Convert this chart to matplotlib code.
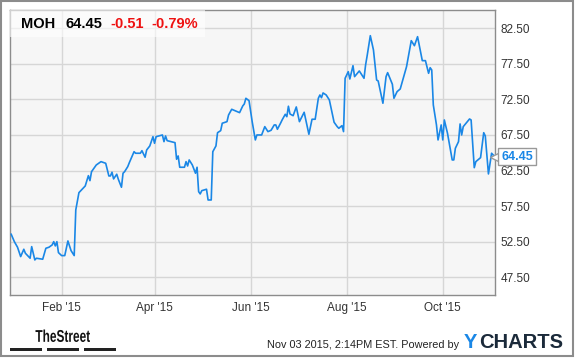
import pandas as pd
import matplotlib
matplotlib.use('Agg')
import matplotlib.pyplot as plt
import matplotlib.dates as mdates
import matplotlib.transforms as mtrans
from matplotlib.patches import Rectangle, PathPatch
from matplotlib.textpath import TextPath
from matplotlib.font_manager import FontProperties

plt.rcParams['font.family'] = ['Liberation Sans', 'DejaVu Sans']

# MOH daily close
dates = ['2014-12-31', '2015-01-02', '2015-01-04', '2015-01-06', '2015-01-08', '2015-01-09',
         '2015-01-12', '2015-01-13', '2015-01-15', '2015-01-16', '2015-01-20', '2015-01-22',
         '2015-01-24', '2015-01-26', '2015-01-27', '2015-01-28', '2015-01-29', '2015-01-30',
         '2015-02-01', '2015-02-03', '2015-02-05', '2015-02-07', '2015-02-09', '2015-02-10',
         '2015-02-12', '2015-02-14', '2015-02-16', '2015-02-18', '2015-02-19', '2015-02-20',
         '2015-02-23', '2015-02-26', '2015-03-01', '2015-03-03', '2015-03-04', '2015-03-05',
         '2015-03-06', '2015-03-08', '2015-03-09', '2015-03-11', '2015-03-12', '2015-03-13',
         '2015-03-15', '2015-03-16', '2015-03-19', '2015-03-20', '2015-03-23', '2015-03-24',
         '2015-03-26', '2015-03-27', '2015-03-29', '2015-03-31', '2015-04-01', '2015-04-02',
         '2015-04-06', '2015-04-07', '2015-04-08', '2015-04-09', '2015-04-14', '2015-04-15',
         '2015-04-16', '2015-04-17', '2015-04-20', '2015-04-21', '2015-04-22', '2015-04-23',
         '2015-04-25', '2015-04-27', '2015-04-28', '2015-04-29', '2015-04-30', '2015-05-01',
         '2015-05-04', '2015-05-05', '2015-05-07', '2015-05-08', '2015-05-10', '2015-05-11',
         '2015-05-13', '2015-05-14', '2015-05-17', '2015-05-18', '2015-05-20', '2015-05-25',
         '2015-05-27', '2015-05-28', '2015-05-29', '2015-05-31', '2015-06-02', '2015-06-04',
         '2015-06-05', '2015-06-08', '2015-06-10', '2015-06-12', '2015-06-14', '2015-06-16',
         '2015-06-17', '2015-06-18', '2015-06-20', '2015-06-21', '2015-06-23', '2015-06-24',
         '2015-06-25', '2015-06-26', '2015-06-28', '2015-06-30', '2015-07-02', '2015-07-05',
         '2015-07-08', '2015-07-10', '2015-07-12', '2015-07-14', '2015-07-15', '2015-07-16',
         '2015-07-17', '2015-07-19', '2015-07-21', '2015-07-24', '2015-07-26', '2015-07-27',
         '2015-07-29', '2015-07-30', '2015-07-31', '2015-08-02', '2015-08-03', '2015-08-05',
         '2015-08-06', '2015-08-09', '2015-08-12', '2015-08-13', '2015-08-14', '2015-08-16',
         '2015-08-18', '2015-08-20', '2015-08-21', '2015-08-24', '2015-08-26', '2015-08-27',
         '2015-08-30', '2015-08-31', '2015-09-02', '2015-09-04', '2015-09-08', '2015-09-11',
         '2015-09-13', '2015-09-15', '2015-09-18', '2015-09-20', '2015-09-22', '2015-09-23',
         '2015-09-24', '2015-09-25', '2015-09-27', '2015-09-28', '2015-09-30', '2015-10-01',
         '2015-10-02', '2015-10-04', '2015-10-07', '2015-10-08', '2015-10-09', '2015-10-11',
         '2015-10-12', '2015-10-13', '2015-10-14', '2015-10-18', '2015-10-19', '2015-10-21',
         '2015-10-22', '2015-10-25', '2015-10-27', '2015-10-28', '2015-10-30', '2015-11-01',
         '2015-11-03']
prices = [53.54, 52.50, 51.72, 50.40, 51.43, 50.87,
          50.17, 51.80, 49.93, 50.17, 50.03, 51.57,
          51.72, 52.04, 52.50, 51.90, 52.50, 50.96,
          50.54, 50.54, 52.60, 51.24, 50.54, 56.96,
          59.39, 59.87, 60.33, 61.78, 61.08, 62.34,
          63.28, 63.75, 63.52, 61.74, 61.74, 62.26,
          61.32, 61.98, 61.28, 60.15, 62.12, 62.34,
          63.05, 63.61, 65.15, 64.93, 64.93, 65.29,
          64.37, 65.39, 65.96, 67.26, 66.33, 67.26,
          67.50, 66.56, 67.36, 66.70, 66.42, 64.09,
          64.55, 62.96, 62.96, 63.75, 63.14, 63.99,
          63.28, 62.12, 62.96, 59.53, 59.21, 59.67,
          59.87, 58.36, 58.36, 65.15, 65.96, 67.82,
          68.11, 69.15, 69.37, 70.31, 71.11, 70.64,
          71.58, 71.86, 72.66, 72.32, 69.37, 66.80,
          67.50, 67.50, 68.67, 67.97, 68.16, 68.91,
          68.91, 68.30, 69.15, 69.61, 70.41, 70.07,
          71.54, 70.45, 70.21, 71.44, 69.37, 70.69,
          67.60, 69.71, 69.71, 72.66, 73.12, 72.74,
          73.41, 73.12, 72.42, 69.29, 68.67, 68.44,
          68.81, 67.97, 75.47, 76.40, 75.37, 77.24,
          75.70, 76.50, 75.47, 77.34, 78.65, 81.46,
          79.45, 75.23, 75.09, 71.96, 75.70, 76.26,
          74.63, 72.66, 73.59, 73.97, 77.10, 80.76,
          80.05, 81.32, 77.95, 77.95, 76.17, 76.96,
          76.64, 71.72, 68.91, 66.80, 68.91, 66.80,
          69.61, 67.74, 63.99, 63.99, 65.63, 66.56,
          69.05, 67.50, 68.67, 69.75, 69.61, 62.90,
          63.75, 64.31, 67.82, 67.36, 62.02, 64.93,
          64.45]

ticker = 'MOH'
last_price = '64.45'
change = '-0.51'
change_pct = '-0.79%'
yticks = [47.5, 52.5, 57.5, 62.5, 67.5, 72.5, 77.5, 82.5]
xticks = ['2015-02-01', '2015-04-01', '2015-06-01', '2015-08-01', '2015-10-01']
footer = 'Nov 03 2015, 2:14PM EST. Powered by'

blue = '#1a87e6'
W, H = 575, 358
fig = plt.figure(figsize=(W / 100, H / 100), dpi=100)
ax = fig.add_axes([9.5 / W, 1 - 295 / H, (495 - 9.5) / W, (295 - 10) / H])
ax.set_facecolor('#f6f6f6')

x = pd.to_datetime(dates)
ax.plot(x, prices, color=blue, lw=1.2, zorder=3)

ax.set_xlim(pd.Timestamp('2014-12-29 22:00'), pd.Timestamp('2015-11-03 04:00'))
ax.set_ylim(45.0, 85.07)
ax.set_yticks(yticks)
ax.set_yticklabels([f'{v:.2f}' for v in yticks])
ax.set_xticks(pd.to_datetime(xticks))
ax.xaxis.set_major_formatter(mdates.DateFormatter("%b '%y"))
ax.yaxis.tick_right()
ax.tick_params(axis='both', length=0, labelsize=8.5, colors='#333333')
ax.tick_params(axis='y', pad=4)
ax.tick_params(axis='x', pad=5)
ax.grid(True, color='#d6d6d6', lw=1)
ax.set_axisbelow(True)
for s in ax.spines.values():
    s.set_color('#8c8c8c')
    s.set_linewidth(1)

# header box with quote
ax.add_patch(Rectangle((0, 1 - 27 / 285), 195 / 485.5, 27 / 285, transform=ax.transAxes,
                       fc='white', alpha=0.6, ec='none', zorder=4))
hy = 1 - 14.5 / 285
ax.text(12 / 485.5, hy, ticker, transform=ax.transAxes, fontsize=10.5, fontweight='bold',
        va='center', color='black', zorder=5)
ax.text(55.5 / 485.5, hy, last_price, transform=ax.transAxes, fontsize=10.5, fontweight='bold',
        va='center', color='black', zorder=5)
ax.text(100.5 / 485.5, hy, change, transform=ax.transAxes, fontsize=10.5, fontweight='bold',
        va='center', color='#ee1111', zorder=5)
ax.text(141.5 / 485.5, hy, change_pct, transform=ax.transAxes, fontsize=10.5, fontweight='bold',
        va='center', color='#ee1111', zorder=5)

# last price marker on the right axis
tr = mtrans.blended_transform_factory(ax.transAxes, ax.transData)
ax.plot([1.0], [prices[-1]], marker='<', ms=7, mfc='white', mec='#999999', mew=1,
        transform=tr, clip_on=False, zorder=6)
ax.text(1.0 + 6 / 485.5, prices[-1], last_price, transform=tr, fontsize=9, fontweight='bold',
        color=blue, va='center', ha='left', zorder=7,
        bbox=dict(boxstyle='square,pad=0.22', fc='white', ec='#999999', lw=1))

# footer: condensed "TheStreet" logo squeezed into its box (pixel coords)
tp = TextPath((0, 0), 'TheStreet', size=17, prop=FontProperties(family='Liberation Sans', weight='bold'))
bb = tp.get_extents()
logo_tr = mtrans.Affine2D().translate(-bb.x0, -bb.y0).scale(54.5 / bb.width, 12.5 / bb.height) \
    .translate(35.5, H - 342)
fig.patches.append(PathPatch(tp, transform=logo_tr, fc='#111111', ec='none'))
for x0, x1 in [(10, 42), (47, 79), (84, 116)]:
    fig.patches.append(Rectangle((x0 / W, 1 - 351 / H), (x1 - x0) / W, 3 / H,
                                 transform=fig.transFigure, fc='#222222', ec='none'))
fig.text(459 / W, 1 - 345 / H, footer, fontsize=7.8, ha='right', va='center', color='#222222')
fig.text(464 / W, 1 - 343 / H, 'Y', fontsize=14.5, fontweight='bold', ha='left', va='center', color=blue)
fig.text(479 / W, 1 - 343 / H, 'CHARTS', fontsize=14.5, fontweight='bold', ha='left', va='center',
         color='#1b2a3a')

# outer frame
fig.patches.append(Rectangle((1 / W, 2 / H), 572 / W, 355 / H, transform=fig.transFigure,
                             fill=False, ec='#8c8c8c', lw=1.5))

fig.savefig('out.png', dpi=100)
